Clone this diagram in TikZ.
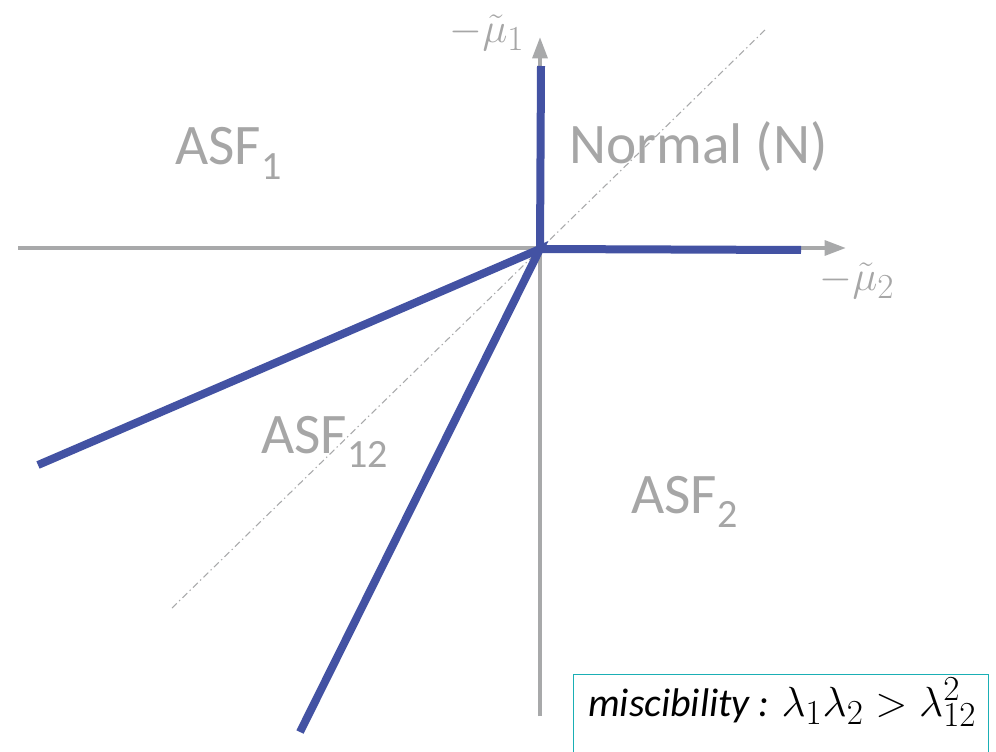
\documentclass[tikz,border=0pt]{standalone}
\usepackage{graphicx}
\usepackage{fontspec}
\setsansfont{Carlito}
\usetikzlibrary{arrows.meta}
\definecolor{axisgray}{HTML}{A8A9AA}
\definecolor{txtgray}{HTML}{A6A6A6}
\definecolor{phaseblue}{HTML}{4352A3}
\definecolor{boxteal}{HTML}{1AAFB5}
\newcommand{\bigmath}[2]{\scalebox{#1}{\fontsize{24.88}{30}\selectfont$#2$}}
\tikzset{
  axisline/.style={draw=axisgray, line width=3pt, -{Triangle[length=16pt,width=11pt]}},
  axisplain/.style={draw=axisgray, line width=3pt},
  diag/.style={draw=axisgray, line width=0.8pt, dash pattern=on 5pt off 2.5pt on 1pt off 2.5pt},
  bound/.style={draw=phaseblue, line width=6pt},
  phase/.style={text=txtgray, font=\sffamily\fontsize{43}{48}\selectfont, inner sep=0pt},
  axlabel/.style={text=txtgray, inner sep=0pt},
  mbox/.style={draw=boxteal, line width=1pt, inner sep=0pt}
}
\begin{document}
\begin{tikzpicture}[x=0.75pt,y=-0.75pt]
\clip (0,0) rectangle (996,752);
\fill[white] (0,0) rectangle (996,752);
% coordinates
\coordinate (O) at (540,249);
\coordinate (xl) at (18,248);
\coordinate (xr) at (846,248);
\coordinate (yb) at (540,716);
\coordinate (yt) at (540,37);
\coordinate (dl) at (172,608);
\coordinate (dr) at (765,30);
\coordinate (b1) at (541,66);
\coordinate (b2) at (801,250);
\coordinate (b3) at (38,465);
\coordinate (b4) at (300,732);
% axes
\draw[axisline] (xl) -- (xr);
\draw[axisplain] (yb) -- (O);
\draw[axisline] (O) -- (yt);
% diagonal
\draw[diag] (dl) -- (dr);
% phase boundaries
\draw[bound, line cap=butt] (b1) -- (O) -- (b2);
\draw[bound] (b3) -- (O) -- (b4);
% labels
\node[axlabel] (mu1) at (487,33) {\bigmath{1.27}{-\tilde{\mu}_1}};
\node[axlabel] (mu2) at (857,281) {\bigmath{1.27}{-\tilde{\mu}_2}};
\node[phase, anchor=base west] (asf1) at (175,165) {ASF\textsubscript{1}};
\node[phase, anchor=base west] (normal) at (569,164) {Normal (N)};
\node[phase, anchor=base west] (asf12) at (261,453) {ASF\textsubscript{12}};
\node[phase, anchor=base west] (asf2) at (631,513) {ASF\textsubscript{2}};
% box
\node[mbox, anchor=north west, minimum width=311pt, minimum height=75pt] (box) at (573,674) {};
\node[anchor=base west, inner sep=0pt] (mtext) at (588,716) {\sffamily\itshape\fontsize{30}{36}\selectfont miscibility : \bigmath{1.27}{\lambda_1\lambda_2>\lambda_{12}^2}};
\end{tikzpicture}
\end{document}
